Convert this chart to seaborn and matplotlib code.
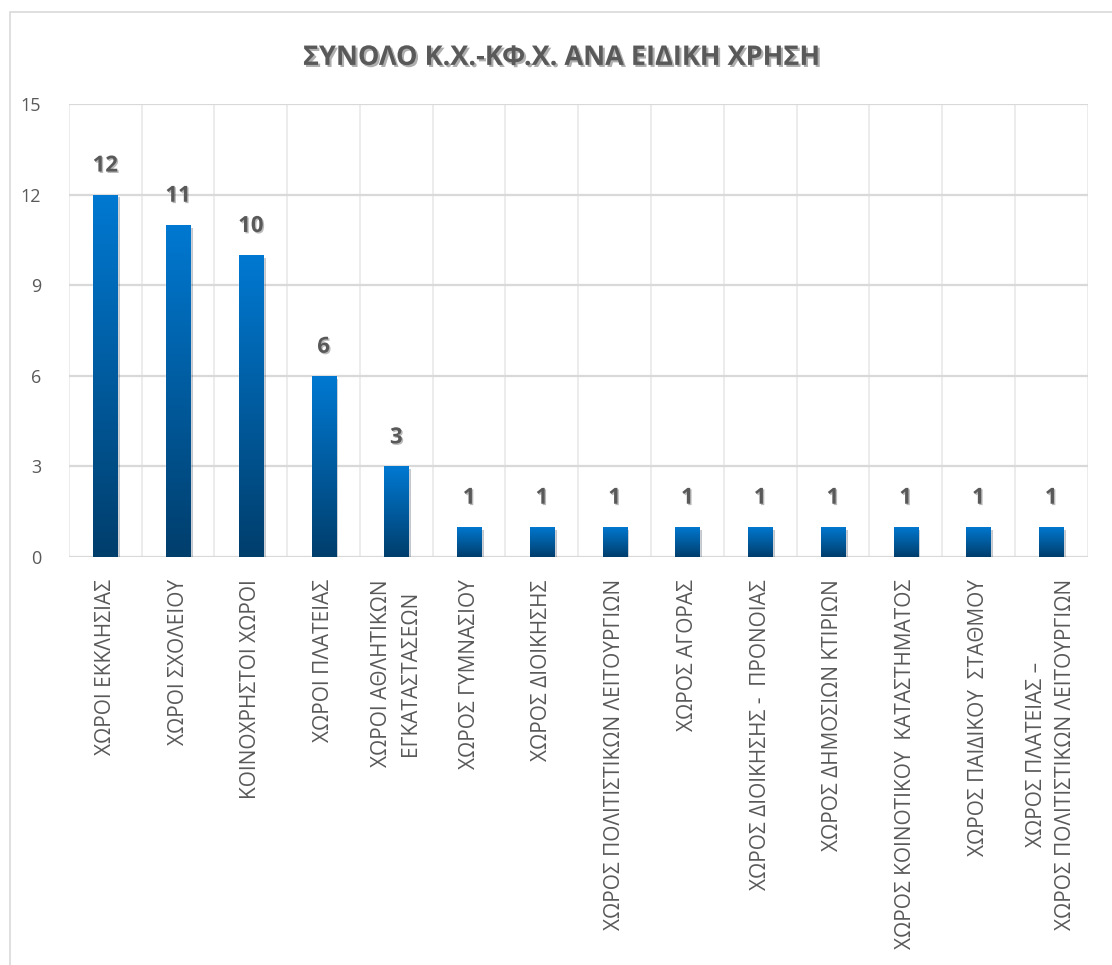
import numpy as np
import matplotlib
matplotlib.use("Agg")
import matplotlib.pyplot as plt
import matplotlib.patheffects as pe
from matplotlib.colors import LinearSegmentedColormap
from matplotlib.patches import Rectangle
import seaborn as sns

# data
categories = [
    "ΧΩΡΟΙ ΕΚΚΛΗΣΙΑΣ",
    "ΧΩΡΟΙ ΣΧΟΛΕΙΟΥ",
    "ΚΟΙΝΟΧΡΗΣΤΟΙ ΧΩΡΟΙ",
    "ΧΩΡΟΙ ΠΛΑΤΕΙΑΣ",
    "ΧΩΡΟΙ ΑΘΛΗΤΙΚΩΝ\nΕΓΚΑΤΑΣΤΑΣΕΩΝ",
    "ΧΩΡΟΣ ΓΥΜΝΑΣΙΟΥ",
    "ΧΩΡΟΣ ΔΙΟΙΚΗΣΗΣ",
    "ΧΩΡΟΣ ΠΟΛΙΤΙΣΤΙΚΩΝ ΛΕΙΤΟΥΡΓΙΩΝ",
    "ΧΩΡΟΣ ΑΓΟΡΑΣ",
    "ΧΩΡΟΣ ΔΙΟΙΚΗΣΗΣ -  ΠΡΟΝΟΙΑΣ",
    "ΧΩΡΟΣ ΔΗΜΟΣΙΩΝ ΚΤΙΡΙΩΝ",
    "ΧΩΡΟΣ ΚΟΙΝΟΤΙΚΟΥ  ΚΑΤΑΣΤΗΜΑΤΟΣ",
    "ΧΩΡΟΣ ΠΑΙΔΙΚΟΥ  ΣΤΑΘΜΟΥ",
    "ΧΩΡΟΣ ΠΛΑΤΕΙΑΣ –\nΧΩΡΟΣ ΠΟΛΙΤΙΣΤΙΚΩΝ ΛΕΙΤΟΥΡΓΙΩΝ",
]
counts = [12, 11, 10, 6, 3, 1, 1, 1, 1, 1, 1, 1, 1, 1]
yticks = [0, 3, 6, 9, 12, 15]
title = "ΣΥΝΟΛΟ Κ.Χ.-ΚΦ.Χ. ΑΝΑ ΕΙΔΙΚΗ ΧΡΗΣΗ"

sns.set_style("white")
plt.rcParams["font.family"] = ["Open Sans", "DejaVu Sans"]

grey = "#595959"
fig = plt.figure(figsize=(11.12, 9.65), dpi=100)
ax = fig.add_axes([0.062, 0.4228, 0.916, 0.4694])

sns.barplot(x=categories, y=counts, color="#0079d0", width=0.33, ax=ax, zorder=3)

# vertical gradient inside each bar
cmap = LinearSegmentedColormap.from_list("bar", ["#003e6c", "#0079d2"])
grad = np.linspace(0, 1, 256).reshape(-1, 1)
for p in ax.patches:
    x0, y0 = p.get_x(), p.get_y()
    w, h = p.get_width(), p.get_height()
    p.set_path_effects([pe.SimplePatchShadow(offset=(2, -2), alpha=0.25), pe.Normal()])
    im = ax.imshow(grad, cmap=cmap, origin="lower", aspect="auto",
                   extent=[x0, x0 + w, y0, y0 + h], zorder=4)
    im.set_clip_path(p)

for i, v in enumerate(counts):
    ax.annotate(str(v), (i, v), xytext=(0, 13), textcoords="offset points",
                ha="center", va="bottom", fontsize=16, fontweight="bold",
                color=grey, zorder=5,
                path_effects=[pe.withSimplePatchShadow(offset=(1, -1), alpha=0.3)])

ax.set_xlim(-0.5, len(categories) - 0.5)
ax.set_ylim(0, 15)
ax.set_yticks(yticks)
ax.set_yticklabels([str(t) for t in yticks], fontsize=13, color=grey)
ax.set_xticks(range(len(categories)))
ax.set_xticklabels(categories, rotation=90, fontsize=15, color=grey,
                   ha="center", va="top", multialignment="center",
                   linespacing=1.5)
ax.tick_params(axis="x", length=0, pad=16)
ax.tick_params(axis="y", length=0, pad=20)

ax.set_xticks(np.arange(-0.5, len(categories), 0.5), minor=True)
ax.grid(axis="y", color="#d9d9d9", linewidth=1.6, zorder=0)
ax.grid(axis="x", which="minor", color="#ececec", linewidth=1.4, zorder=0)
ax.set_axisbelow(True)
sns.despine(ax=ax, left=True, bottom=True, top=True, right=True)

fig.text(0.505, 0.94, title, ha="center", va="center", fontsize=19.5,
         fontweight="bold", color=grey,
         path_effects=[pe.withSimplePatchShadow(offset=(1.5, -1.5), alpha=0.35)])

# chart area border
fig.patches.append(Rectangle((10 / 1112, -0.05), 1.1, 1 - 12 / 965 + 0.05,
                             transform=fig.transFigure, fill=False,
                             edgecolor="#d9d9d9", linewidth=1.2))

fig.savefig("out.png", dpi=100)
